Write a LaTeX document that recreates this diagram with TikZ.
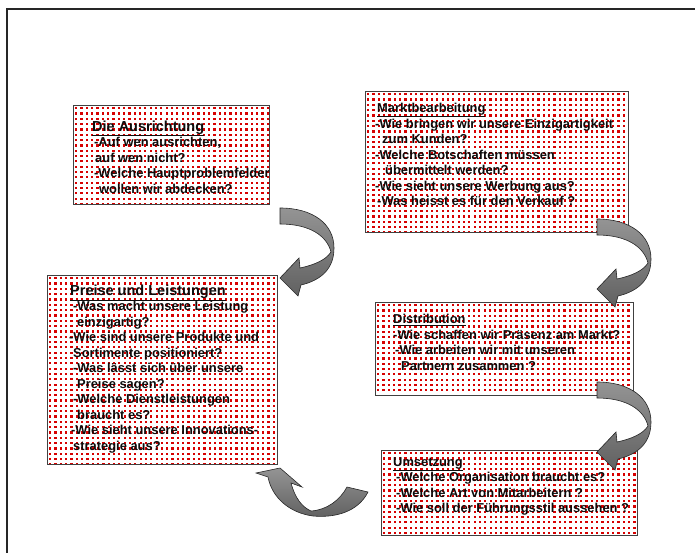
\documentclass[tikz,border=0pt]{standalone}
\usepackage{fontspec}
\setmainfont{Liberation Sans}
\usetikzlibrary{calc}

\definecolor{dotred}{RGB}{215,0,0}

\newcommand{\bodyfont}{\fontsize{12.9}{15.5}\selectfont\bfseries}
\newcommand{\bigtitle}[1]{{\fontsize{14.5}{15.5}\selectfont\underline{#1}}}

\begin{document}
\begin{tikzpicture}[x=1pt, y=-1pt,
  panel/.style={draw=black!75, line width=0.8pt, fill=white, anchor=north west, inner sep=0pt,
    path picture={
      \foreach \i in {0,...,49} \foreach \j in {0,...,35}
        \fill[dotred] (path picture bounding box.north west)
          ++(1.5+5.33*\i,1.5+5.33*\j) rectangle ++(2.3,2.3);
    }},
  panel text/.style={anchor=north west, inner sep=0pt, align=left, font=\bodyfont, text=black!95},
  turn arrow/.style={draw=black!85, line width=0.6pt, top color=black!42, bottom color=black!62}
]
\useasboundingbox (0,0) rectangle (695,553);

% frame (top and left edges only)
\draw[line width=1.6pt, black!85] (7,553) -- (7,9) -- (695,9);

% panels
\node[panel, minimum width=196pt, minimum height=99pt] (ausr) at (73,105) {};
\node[panel, minimum width=263pt, minimum height=141pt] (markt) at (365,91) {};
\node[panel, minimum width=230pt, minimum height=189pt] (preise) at (47,275) {};
\node[panel, minimum width=258pt, minimum height=93pt] (distr) at (375,302) {};
\node[panel, minimum width=256pt, minimum height=85pt] (umsetz) at (381,450) {};

\node[panel text] (ausr text) at ($(ausr.north west)+(19,15.5)$)
  {\bigtitle{Die Ausrichtung}\\
   \hspace*{2pt}-Auf wen ausrichten,\\
   \hspace*{3pt}auf wen nicht?\\
   \hspace*{2pt}-Welche Hauptproblemfelder\\
   \hspace*{7pt}wollen wir abdecken?};

\node[panel text] (markt text) at ($(markt.north west)+(10,12)$)
  {\hspace*{2pt}\underline{Marktbearbeitung}\\
   -Wie bringen wir unsere Einzigartigkeit\\
   \hspace*{7pt}zum Kunden?\\
   -Welche Botschaften müssen\\
   \hspace*{10pt}übermittelt werden?\\
   -Wie sieht unsere Werbung aus?\\
   \hspace*{2pt}-Was heisst es für den Verkauf ?};

\node[panel text] (preise text) at ($(preise.north west)+(22,9.6)$)
  {\hspace*{1pt}\bigtitle{Preise und Leistungen}\\
   \hspace*{4pt}-Was macht unsere Leistung\\
   \hspace*{8pt}einzigartig?\\
   -Wie sind unsere Produkte und\\
   \hspace*{4pt}Sortimente positioniert?\\
   \hspace*{4pt}-Was lässt sich über unsere\\
   \hspace*{8pt}Preise sagen?\\
   \hspace*{4pt}-Welche Dienstleistungen\\
   \hspace*{8pt}braucht es?\\
   \hspace*{2pt}-Wie sieht unsere Innovations-\\
   \hspace*{4pt}strategie aus?};

\node[panel text] (distr text) at ($(distr.north west)+(18,12)$)
  {\underline{Distribution}\\
   -Wie schaffen wir Präsenz am Markt?\\
   \hspace*{2pt}-Wie arbeiten wir mit unseren\\
   \hspace*{8pt}Partnern zusammen ?};

\node[panel text] (umsetz text) at ($(umsetz.north west)+(12,7)$)
  {\underline{Umsetzung}\\
   \hspace*{3pt}-Welche Organisation braucht es?\\
   \hspace*{3pt}-Welche Art von Mitarbeitern ?\\
   \hspace*{3pt}-Wie soll der Führungsstil aussehen ?};

% curved block arrows
\coordinate (turn1) at (280,208);
\coordinate (turn2) at (597,219);
\coordinate (turn3) at (597,382);
\foreach \c in {turn1,turn2,turn3}{
  \draw[turn arrow, shift={(\c)}]
    (0,0) .. controls (33,0) and (54,16) .. (54,40)
    .. controls (54,60) and (42,72) .. (21,77)
    -- (18,88) -- (0,70) -- (19,50) -- (20,60)
    .. controls (34,57) and (46,52) .. (51,44)
    .. controls (47,28) and (30,16) .. (0,16) -- cycle;
}
\coordinate (turn4) at (0,0);
\draw[turn arrow, shift={(turn4)}]
  (268,477) -- (256,473) -- (280,468) -- (302,487) -- (291,483)
  .. controls (295,498) and (302,507) .. (311,511)
  .. controls (327,510) and (340,500) .. (347,487)
  -- (368,492)
  .. controls (358,512) and (335,518) .. (313,516)
  .. controls (290,513) and (272,498) .. (268,477) -- cycle;
\end{tikzpicture}
\end{document}
